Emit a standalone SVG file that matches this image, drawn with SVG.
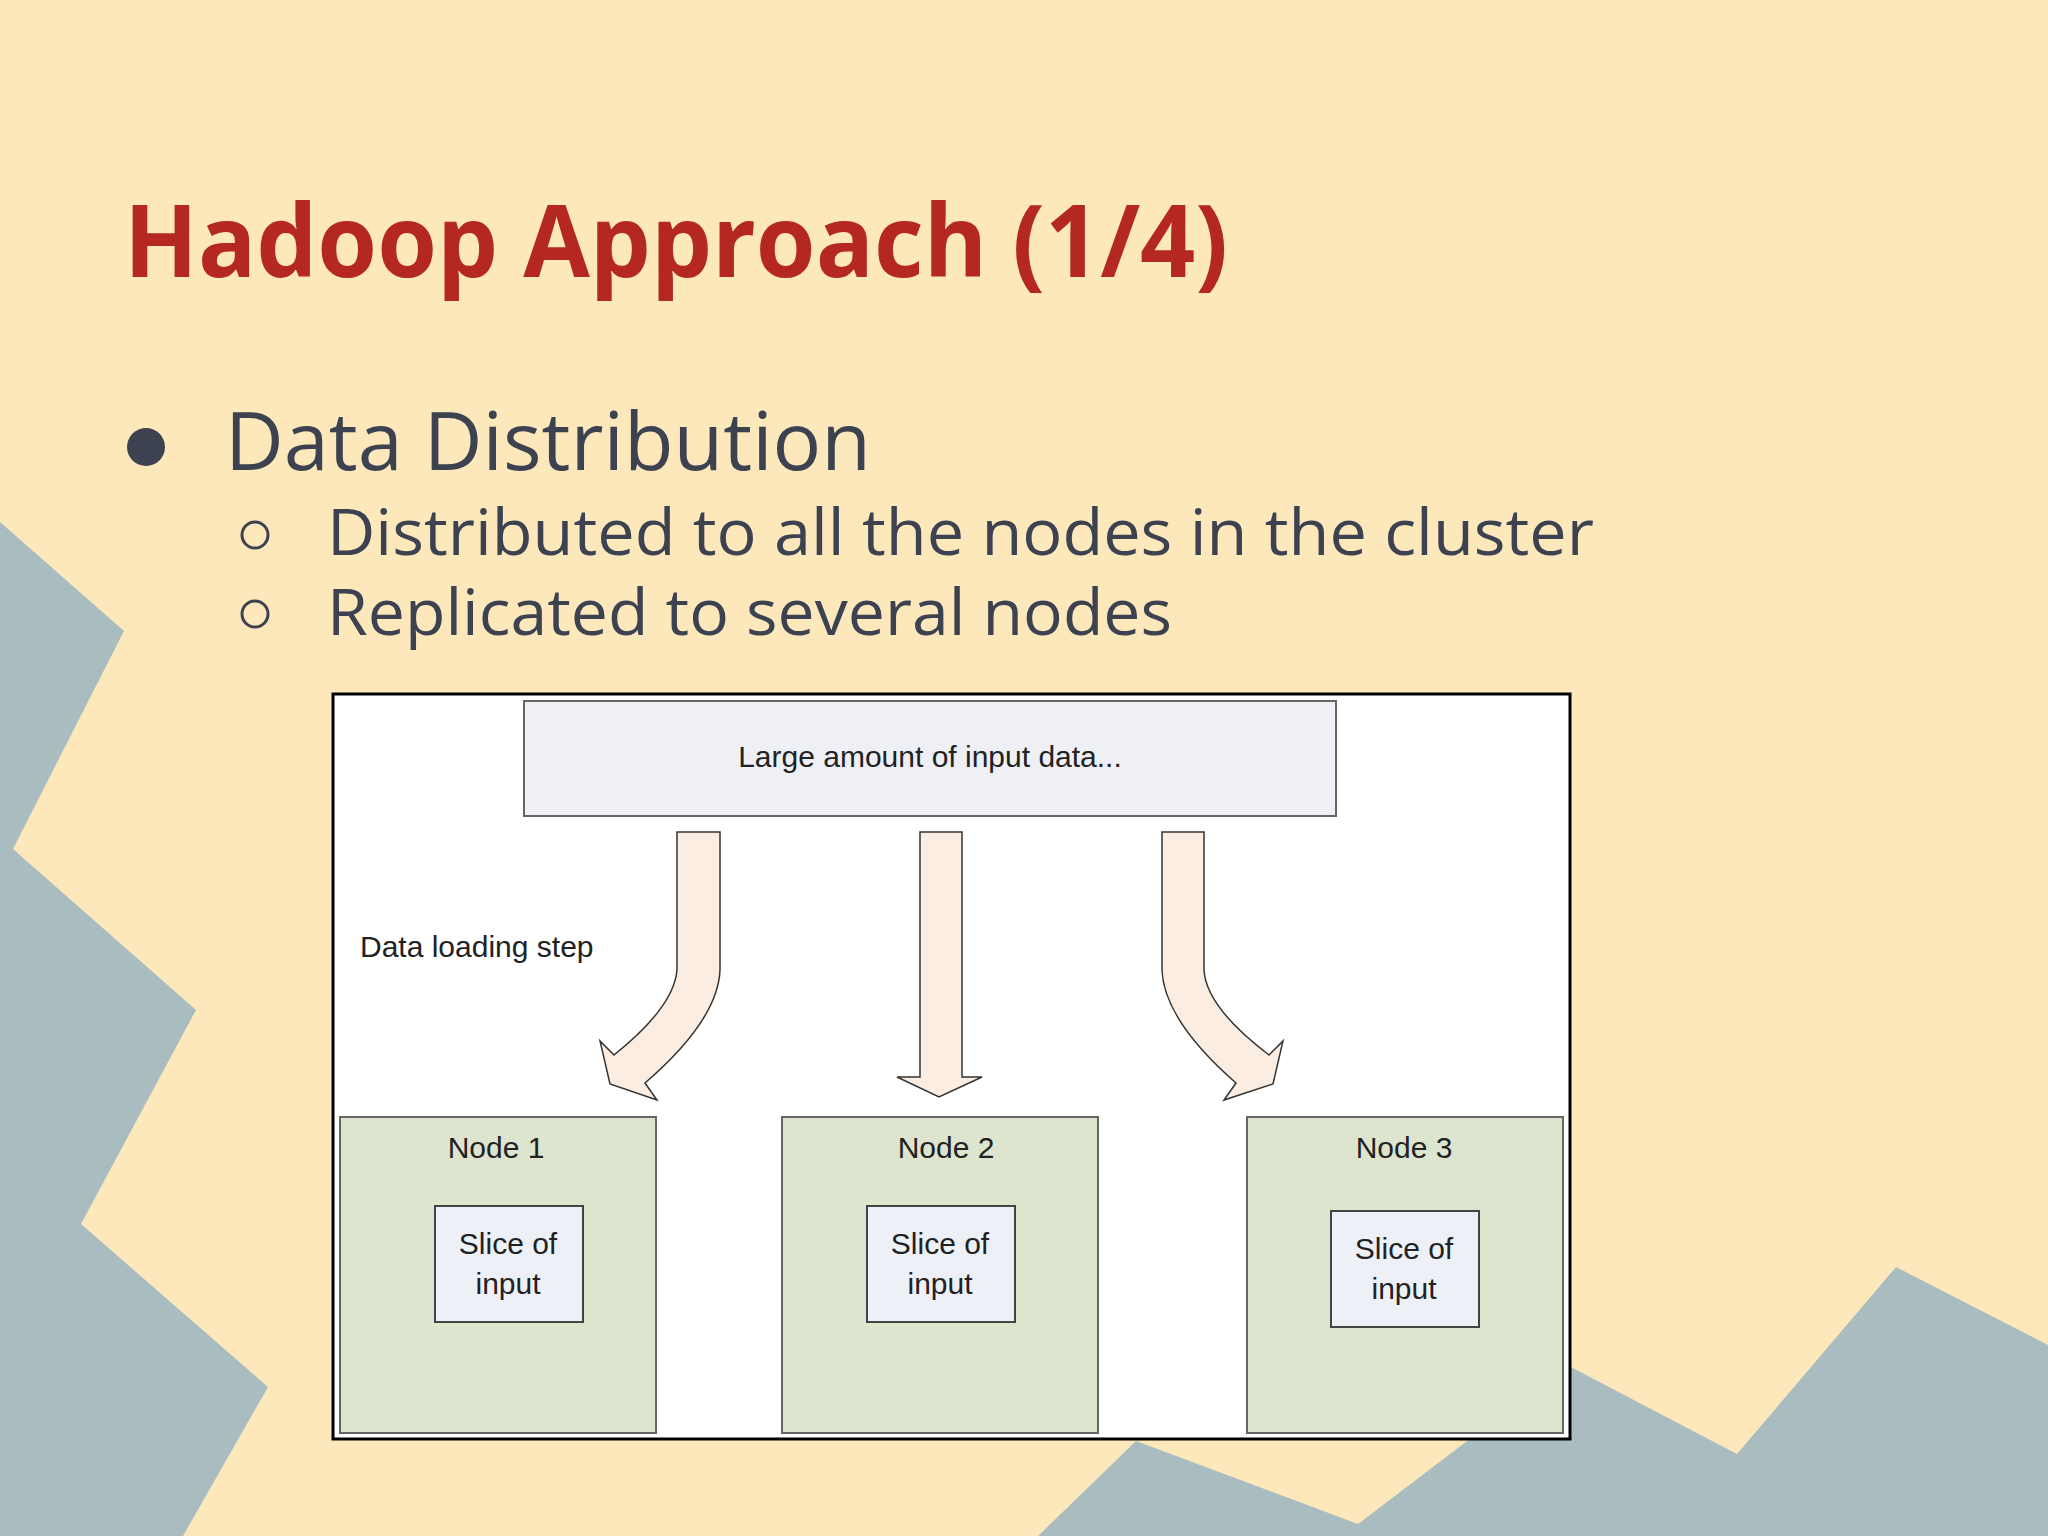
<svg xmlns="http://www.w3.org/2000/svg" width="2048" height="1536" viewBox="0 0 2048 1536">
<style>
.t{font-family:"Open Sans","DejaVu Sans",sans-serif;fill:#3C4250}
.d{font-family:"Liberation Sans",Arial,sans-serif;fill:#222;font-size:30px;text-anchor:middle}
.node{fill:#DDE5CF;stroke:#666;stroke-width:2}
.slice{fill:#EEF0F8;stroke:#444;stroke-width:2}
.arr{fill:#FCEDE2;stroke:#333;stroke-width:1.5}
</style>
<rect width="2048" height="1536" fill="#FDE8BB"/>
<polygon fill="#A9BDC0" points="0,522 124,631 13,849 196,1010 81,1224 268,1387 183,1536 0,1536"/>
<polygon fill="#A9BDC0" points="1038,1536 1136,1441 1358,1524 1567,1365 1737,1454 1896,1267 2048,1345 2048,1536"/>
<text x="124" y="277" font-family="'Open Sans','DejaVu Sans',sans-serif" font-weight="bold" font-size="100" fill="#B5281F" textLength="1104" lengthAdjust="spacingAndGlyphs">Hadoop Approach (1/4)</text>
<circle cx="146" cy="447" r="19" fill="#3C4250"/>
<text class="t" x="225" y="470" font-size="80" textLength="646" lengthAdjust="spacingAndGlyphs">Data Distribution</text>
<circle cx="255" cy="535" r="13" fill="none" stroke="#3C4250" stroke-width="3"/>
<text class="t" x="327" y="555" font-size="64" textLength="1267" lengthAdjust="spacingAndGlyphs">Distributed to all the nodes in the cluster</text>
<circle cx="255" cy="614" r="13" fill="none" stroke="#3C4250" stroke-width="3"/>
<text class="t" x="327" y="635" font-size="64" textLength="845" lengthAdjust="spacingAndGlyphs">Replicated to several nodes</text>
<rect x="333" y="694" width="1237" height="745" fill="#fff" stroke="#000" stroke-width="3"/>
<g id="input"><rect x="524" y="701" width="812" height="115" fill="#EEF0F6" stroke="#666" stroke-width="2"/>
<text class="d" x="930" y="767">Large amount of input data...</text></g>
<text class="d" x="360" y="957" style="text-anchor:start">Data loading step</text>
<g id="connectors">
<path class="arr" d="M677,832 L720,832 L720,970 Q718,1020 645,1083 L657,1100 L610,1084 L600,1041 L614,1055 Q674,1007 677,970 Z"/>
<path class="arr" d="M920,832 L962,832 L962,1077 L982,1077 L939,1097 L897,1077 L920,1077 Z"/>
<path class="arr" d="M1162,832 L1204,832 L1204,970 Q1206,1007 1269,1055 L1283,1041 L1273,1084 L1224,1100 L1236,1083 Q1164,1020 1162,970 Z"/>
</g>
<g id="node1"><rect class="node" x="340" y="1117" width="316" height="316"/><text class="d" x="496" y="1158">Node 1</text>
<rect class="slice" x="435" y="1206" width="148" height="116"/><text class="d" x="508" y="1254">Slice of</text><text class="d" x="508" y="1294">input</text></g>
<g id="node2"><rect class="node" x="782" y="1117" width="316" height="316"/><text class="d" x="946" y="1158">Node 2</text>
<rect class="slice" x="867" y="1206" width="148" height="116"/><text class="d" x="940" y="1254">Slice of</text><text class="d" x="940" y="1294">input</text></g>
<g id="node3"><rect class="node" x="1247" y="1117" width="316" height="316"/><text class="d" x="1404" y="1158">Node 3</text>
<rect class="slice" x="1331" y="1211" width="148" height="116"/><text class="d" x="1404" y="1259">Slice of</text><text class="d" x="1404" y="1299">input</text></g>
</svg>
